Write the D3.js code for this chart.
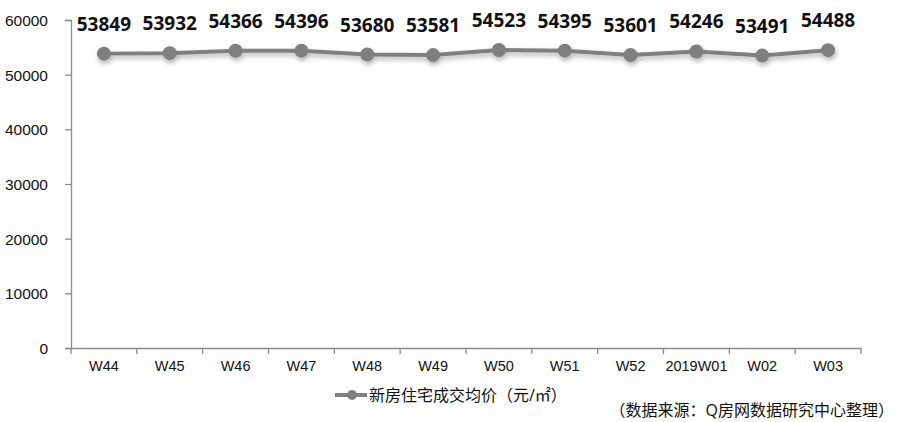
<!DOCTYPE html>
<html><head><meta charset="utf-8">
<script src="https://cdn.jsdelivr.net/npm/d3@7"></script>
<style>
html,body{margin:0;padding:0;background:#fff;}
svg{display:block;font-family:"Open Sans","Noto Sans CJK SC",sans-serif;}
</style></head>
<body><svg id="c" width="900" height="422"></svg>
<script>
const categories = ["W44","W45","W46","W47","W48","W49","W50","W51","W52","2019W01","W02","W03"];
const values = [53849,53932,54366,54396,53680,53581,54523,54395,53601,54246,53491,54488];
const yTicks = [0,10000,20000,30000,40000,50000,60000];
const seriesName = "新房住宅成交均价（元/㎡）";
const sourceNote = "（数据来源：Q房网数据研究中心整理）";

(function(){
const svg = d3.select("#c");
const mLeft = 71, mRight = 861, mTop = 20, mBottom = 348;
const x = d3.scaleBand().domain(categories).range([mLeft, mRight]);
const y = d3.scaleLinear().domain([0, 60000]).range([mBottom, mTop]);
const axisColor = "#8c8c8c", lineColor = "#7f7f7f";

const defs = svg.append("defs");
const f = defs.append("filter").attr("id","sh").attr("x","-10%").attr("y","-50%").attr("width","120%").attr("height","200%");
f.append("feDropShadow").attr("dx",1).attr("dy",3).attr("stdDeviation",2.5).attr("flood-color","#000").attr("flood-opacity",0.3);

// y axis
const ya = svg.append("g").attr("transform",`translate(${mLeft},0)`)
  .call(d3.axisLeft(y).tickValues(yTicks).tickSize(6).tickPadding(17).tickFormat(d3.format("d")));
ya.select(".domain").attr("stroke",axisColor).attr("stroke-width",1.3);
ya.selectAll(".tick line").attr("stroke",axisColor).attr("stroke-width",1.3);
ya.selectAll(".tick text").attr("fill","#111").style("font-size","15.5px").attr("dy","0.35em");

// x axis
const xa = svg.append("g").attr("transform",`translate(0,${mBottom})`)
  .call(d3.axisBottom(x).tickSize(0).tickPadding(13));
xa.select(".domain").attr("stroke",axisColor).attr("stroke-width",1.3);
xa.selectAll(".tick text").attr("fill","#111").style("font-size","14.5px");
const bounds = categories.map(c => x(c)).concat([mRight]);
svg.append("g").selectAll("line").data(bounds).join("line")
  .attr("x1",d=>d).attr("x2",d=>d).attr("y1",mBottom).attr("y2",mBottom+6)
  .attr("stroke",axisColor).attr("stroke-width",1.3);

// line
const cx = d => x(d.c) + x.bandwidth()/2;
const data = categories.map((c,i)=>({c, v: values[i]}));
const g = svg.append("g").attr("filter","url(#sh)");
g.append("path").datum(data)
  .attr("d", d3.line().x(cx).y(d=>y(d.v)))
  .attr("fill","none").attr("stroke",lineColor).attr("stroke-width",4);
g.selectAll("circle").data(data).join("circle")
  .attr("cx",cx).attr("cy",d=>y(d.v)).attr("r",7).attr("fill",lineColor);

// labels
svg.append("g").selectAll("text").data(data).join("text")
  .attr("x",cx).attr("y",d=>y(d.v)-23).attr("text-anchor","middle")
  .style("font-size","19px").style("font-weight","bold").attr("fill","#111")
  .text(d=>d.v);

// legend
const lg = svg.append("g");
lg.append("line").attr("x1",335).attr("x2",367).attr("y1",395).attr("y2",395)
  .attr("stroke",lineColor).attr("stroke-width",4);
lg.append("circle").attr("cx",352).attr("cy",395).attr("r",5).attr("fill",lineColor);
lg.append("text").attr("x",369).attr("y",395).attr("dy","0.35em")
  .style("font-size","16px").attr("fill","#111").text(seriesName);

svg.append("text").attr("x",894).attr("y",410).attr("dy","0.35em").attr("text-anchor","end")
  .style("font-size","16px").attr("fill","#111").text(sourceNote);
})();
</script></body></html>
